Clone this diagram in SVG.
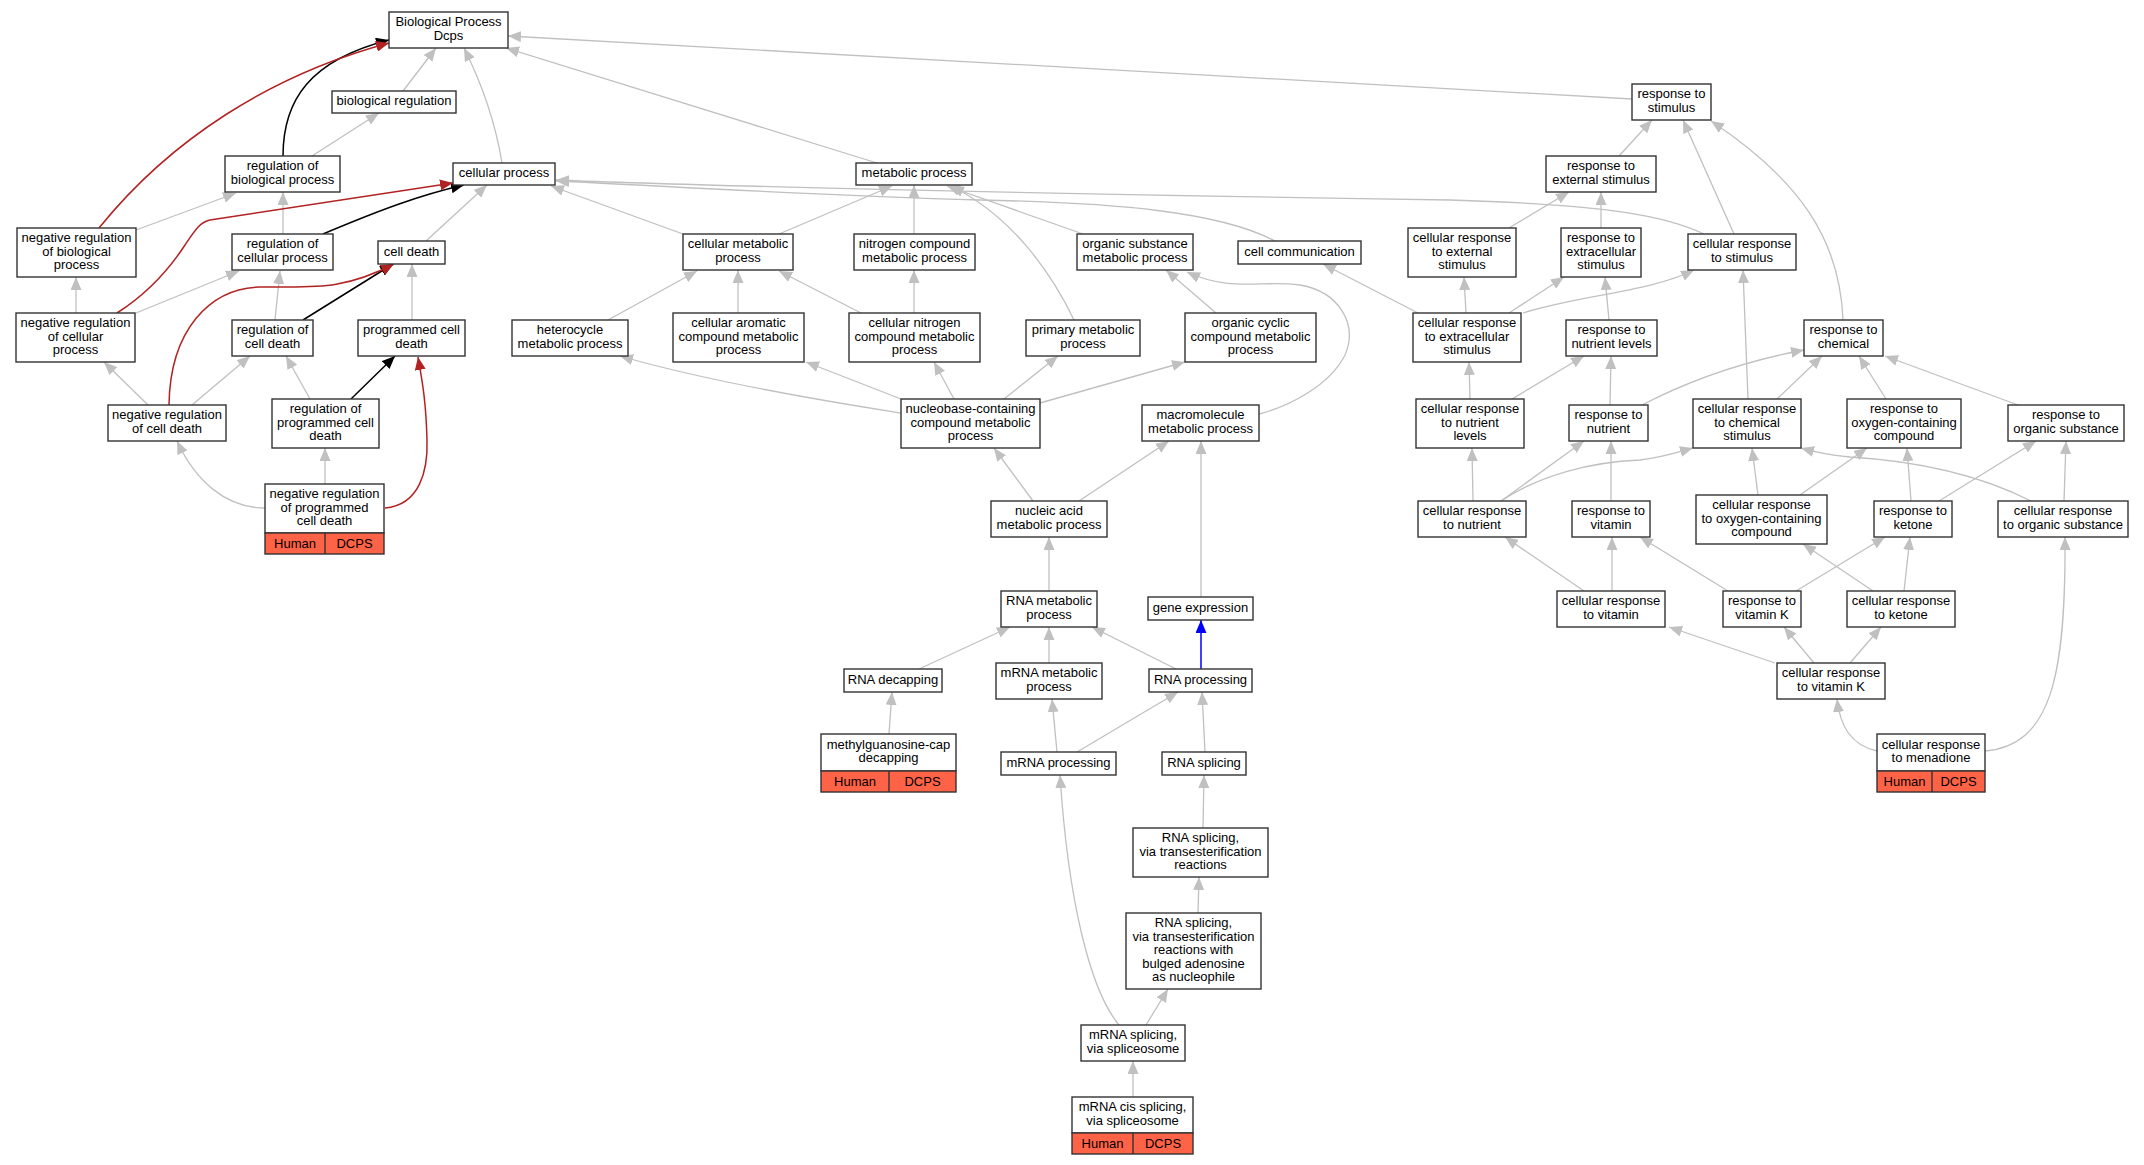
<svg xmlns="http://www.w3.org/2000/svg" width="2144" height="1165" viewBox="0 0 2144 1165">
<style>
.n rect{fill:#fff;stroke:#333;stroke-width:1.4}
.n rect.row{fill:#ff6347}
.n line{stroke:#333;stroke-width:1.4}
text{font-family:"Liberation Sans",Arial,Helvetica,sans-serif;font-size:13px;text-anchor:middle;fill:#000}
.e path{fill:none}
.g{stroke:#c0c0c0;stroke-width:1.3;marker-end:url(#ag)}
.k{stroke:#000;stroke-width:1.5;marker-end:url(#ak)}
.r{stroke:#b22222;stroke-width:1.5;marker-end:url(#ar)}
.b{stroke:#0000ff;stroke-width:1.5;marker-end:url(#ab)}
</style>
<defs>
<marker id="ag" markerUnits="userSpaceOnUse" markerWidth="13" markerHeight="11" refX="13" refY="5.5" orient="auto"><path d="M0,0L13,5.5L0,11z" fill="#c0c0c0"/></marker>
<marker id="ak" markerUnits="userSpaceOnUse" markerWidth="13" markerHeight="11" refX="13" refY="5.5" orient="auto"><path d="M0,0L13,5.5L0,11z" fill="#000"/></marker>
<marker id="ar" markerUnits="userSpaceOnUse" markerWidth="13" markerHeight="11" refX="13" refY="5.5" orient="auto"><path d="M0,0L13,5.5L0,11z" fill="#b22222"/></marker>
<marker id="ab" markerUnits="userSpaceOnUse" markerWidth="13" markerHeight="11" refX="13" refY="5.5" orient="auto"><path d="M0,0L13,5.5L0,11z" fill="#0000ff"/></marker>
</defs>
<rect width="2144" height="1165" fill="#fff"/>
<g id="connectors" class="e">
<path class="g" d="M403,91 L436,48"/>
<path class="g" d="M312,156 L379,113"/>
<path class="g" d="M502,163 C495,120 480,80 464,48"/>
<path class="g" d="M877,163 L506,48"/>
<path class="g" d="M1632,99 L508,36"/>
<path class="g" d="M136,230 L236,193"/>
<path class="g" d="M283,234 L283,192"/>
<path class="g" d="M426,241 L487,185"/>
<path class="g" d="M76,313 L76,277"/>
<path class="g" d="M136,313 L239,271"/>
<path class="g" d="M275,320 L280,271"/>
<path class="g" d="M412,320 L412,264"/>
<path class="g" d="M310,399 L286,356"/>
<path class="g" d="M148,405 L104,362"/>
<path class="g" d="M192,405 L250,356"/>
<path class="g" d="M265,508 C225,508 195,480 177,441"/>
<path class="g" d="M325,484 L325,448"/>
<path class="g" d="M683,234 L551,186"/>
<path class="g" d="M1704,234 C1670,218 1620,205 1450,200 C1100,195 700,186 556,180"/>
<path class="g" d="M1275,241 C1220,212 1120,203 980,200 C800,195 650,185 556,181"/>
<path class="g" d="M779,234 L892,186"/>
<path class="g" d="M914,234 L914,185"/>
<path class="g" d="M1083,234 L947,186"/>
<path class="g" d="M1074,320 C1050,270 1010,215 951,186"/>
<path class="g" d="M1259,414 C1290,406 1330,385 1345,355 C1358,325 1340,292 1300,285 C1260,280 1230,292 1187,272"/>
<path class="g" d="M608,320 L697,271"/>
<path class="g" d="M738,313 L738,270"/>
<path class="g" d="M861,313 L779,271"/>
<path class="g" d="M914,313 L914,270"/>
<path class="g" d="M901,413 C850,405 720,385 620,356"/>
<path class="g" d="M901,399 L806,362"/>
<path class="g" d="M954,399 L934,362"/>
<path class="g" d="M1004,399 L1058,356"/>
<path class="g" d="M1040,403 L1185,362"/>
<path class="g" d="M1216,313 L1166,270"/>
<path class="g" d="M1033,501 L994,448"/>
<path class="g" d="M1079,501 L1169,441"/>
<path class="g" d="M1049,591 L1049,537"/>
<path class="g" d="M1201,597 L1201,441"/>
<path class="g" d="M919,669 L1010,627"/>
<path class="g" d="M1049,663 L1049,627"/>
<path class="g" d="M1176,669 L1092,627"/>
<path class="g" d="M889,734 L892,692"/>
<path class="g" d="M1057,752 L1052,699"/>
<path class="g" d="M1077,752 L1178,692"/>
<path class="g" d="M1205,752 L1202,692"/>
<path class="g" d="M1203,828 L1204,775"/>
<path class="g" d="M1198,913 L1199,877"/>
<path class="g" d="M1146,1025 L1168,989"/>
<path class="g" d="M1119,1025 C1090,990 1068,900 1060,775"/>
<path class="g" d="M1133,1097 L1133,1061"/>
<path class="g" d="M1619,156 L1652,120"/>
<path class="g" d="M1734,234 L1683,120"/>
<path class="g" d="M1843,320 C1840,240 1800,180 1711,121"/>
<path class="g" d="M1509,228 L1569,192"/>
<path class="g" d="M1601,228 L1601,192"/>
<path class="g" d="M1418,313 L1323,264"/>
<path class="g" d="M1466,313 L1464,277"/>
<path class="g" d="M1509,313 L1564,277"/>
<path class="g" d="M1523,313 C1580,295 1650,292 1694,270"/>
<path class="g" d="M1609,320 L1605,277"/>
<path class="g" d="M1470,399 L1469,362"/>
<path class="g" d="M1512,399 L1584,356"/>
<path class="g" d="M1610,405 L1611,356"/>
<path class="g" d="M1473,501 L1472,448"/>
<path class="g" d="M1501,501 L1584,441"/>
<path class="g" d="M1501,501 C1540,475 1590,462 1640,460 C1660,458 1675,453 1693,448"/>
<path class="g" d="M1611,501 L1611,441"/>
<path class="g" d="M1584,591 L1505,537"/>
<path class="g" d="M1612,591 L1612,537"/>
<path class="g" d="M1775,663 L1669,627"/>
<path class="g" d="M1814,663 L1784,627"/>
<path class="g" d="M1850,663 L1881,627"/>
<path class="g" d="M1728,591 L1640,537"/>
<path class="g" d="M1796,591 L1885,537"/>
<path class="g" d="M1873,591 L1803,544"/>
<path class="g" d="M1904,591 L1910,537"/>
<path class="g" d="M1877,751 C1850,745 1840,725 1837,699"/>
<path class="g" d="M1985,751 C2050,745 2066,680 2065,537"/>
<path class="g" d="M2064,501 L2066,441"/>
<path class="g" d="M2031,501 C1970,470 1900,460 1850,457 C1830,455 1815,452 1801,448"/>
<path class="g" d="M1911,501 L1907,448"/>
<path class="g" d="M1939,501 L2036,441"/>
<path class="g" d="M1758,495 L1752,448"/>
<path class="g" d="M1800,495 L1867,448"/>
<path class="g" d="M1777,399 L1822,356"/>
<path class="g" d="M1748,399 L1743,270"/>
<path class="g" d="M1642,405 C1690,380 1740,362 1804,350"/>
<path class="g" d="M1886,399 L1859,356"/>
<path class="g" d="M2018,405 L1885,356"/>
<path class="k" d="M283,156 C283,100 310,60 389,40"/>
<path class="k" d="M323,234 C380,210 420,195 464,185"/>
<path class="k" d="M303,320 L393,264"/>
<path class="k" d="M351,399 L395,356"/>
<path class="r" d="M99,228 C170,140 270,75 389,43"/>
<path class="r" d="M117,313 C150,292 170,268 185,245 C195,230 200,222 210,220 L453,183"/>
<path class="r" d="M169,405 C170,330 210,288 260,287 C310,286 340,292 394,264"/>
<path class="r" d="M385,508 C420,505 428,470 427,440 C426,400 422,380 418,357"/>
<path class="b" d="M1201,669 L1201,620"/>
</g>
<g id="n_bp" class="n"><rect x="389" y="12" width="119" height="36"/><text><tspan x="448.5" y="26.25">Biological Process</tspan><tspan x="448.5" y="39.75">Dcps</tspan></text></g>
<g id="n_bioreg" class="n"><rect x="332" y="91" width="124" height="22"/><text x="394" y="105">biological regulation</text></g>
<g id="n_rbp" class="n"><rect x="225" y="156" width="115" height="36"/><text><tspan x="282.5" y="170.25">regulation of</tspan><tspan x="282.5" y="183.75">biological process</tspan></text></g>
<g id="n_cp" class="n"><rect x="453" y="163" width="102" height="22"/><text x="504" y="177">cellular process</text></g>
<g id="n_nrbp" class="n"><rect x="17" y="228" width="119" height="49"/><text><tspan x="76.5" y="242">negative regulation</tspan><tspan x="76.5" y="255.5">of biological</tspan><tspan x="76.5" y="269">process</tspan></text></g>
<g id="n_rcp" class="n"><rect x="232" y="234" width="101" height="36"/><text><tspan x="282.5" y="248.25">regulation of</tspan><tspan x="282.5" y="261.75">cellular process</tspan></text></g>
<g id="n_cd" class="n"><rect x="378" y="241" width="67" height="23"/><text x="411.5" y="255.5">cell death</text></g>
<g id="n_nrcp" class="n"><rect x="16" y="313" width="119" height="49"/><text><tspan x="75.5" y="327">negative regulation</tspan><tspan x="75.5" y="340.5">of cellular</tspan><tspan x="75.5" y="354">process</tspan></text></g>
<g id="n_rcd" class="n"><rect x="232" y="320" width="81" height="36"/><text><tspan x="272.5" y="334.25">regulation of</tspan><tspan x="272.5" y="347.75">cell death</tspan></text></g>
<g id="n_pcd" class="n"><rect x="358" y="320" width="107" height="36"/><text><tspan x="411.5" y="334.25">programmed cell</tspan><tspan x="411.5" y="347.75">death</tspan></text></g>
<g id="n_nrcd" class="n"><rect x="108" y="405" width="118" height="36"/><text><tspan x="167" y="419.25">negative regulation</tspan><tspan x="167" y="432.75">of cell death</tspan></text></g>
<g id="n_rpcd" class="n"><rect x="272" y="399" width="107" height="49"/><text><tspan x="325.5" y="413">regulation of</tspan><tspan x="325.5" y="426.5">programmed cell</tspan><tspan x="325.5" y="440">death</tspan></text></g>
<g id="n_nrpcd" class="n"><rect x="265" y="484" width="119" height="49"/><text><tspan x="324.5" y="498">negative regulation</tspan><tspan x="324.5" y="511.5">of programmed</tspan><tspan x="324.5" y="525">cell death</tspan></text><rect class="row" x="265" y="533" width="119" height="21"/><line x1="325" y1="533" x2="325" y2="554"/><text x="295" y="547.5">Human</text><text x="354.5" y="547.5">DCPS</text></g>
<g id="n_mp" class="n"><rect x="856" y="163" width="116" height="22"/><text x="914" y="177">metabolic process</text></g>
<g id="n_cmp" class="n"><rect x="683" y="234" width="110" height="36"/><text><tspan x="738" y="248.25">cellular metabolic</tspan><tspan x="738" y="261.75">process</tspan></text></g>
<g id="n_ncmp" class="n"><rect x="854" y="234" width="121" height="36"/><text><tspan x="914.5" y="248.25">nitrogen compound</tspan><tspan x="914.5" y="261.75">metabolic process</tspan></text></g>
<g id="n_osmp" class="n"><rect x="1077" y="234" width="116" height="36"/><text><tspan x="1135" y="248.25">organic substance</tspan><tspan x="1135" y="261.75">metabolic process</tspan></text></g>
<g id="n_cc" class="n"><rect x="1238" y="241" width="123" height="23"/><text x="1299.5" y="255.5">cell communication</text></g>
<g id="n_hmp" class="n"><rect x="512" y="320" width="116" height="36"/><text><tspan x="570" y="334.25">heterocycle</tspan><tspan x="570" y="347.75">metabolic process</tspan></text></g>
<g id="n_cacmp" class="n"><rect x="673" y="313" width="131" height="49"/><text><tspan x="738.5" y="327">cellular aromatic</tspan><tspan x="738.5" y="340.5">compound metabolic</tspan><tspan x="738.5" y="354">process</tspan></text></g>
<g id="n_cncmp" class="n"><rect x="849" y="313" width="131" height="49"/><text><tspan x="914.5" y="327">cellular nitrogen</tspan><tspan x="914.5" y="340.5">compound metabolic</tspan><tspan x="914.5" y="354">process</tspan></text></g>
<g id="n_pmp" class="n"><rect x="1026" y="320" width="114" height="36"/><text><tspan x="1083" y="334.25">primary metabolic</tspan><tspan x="1083" y="347.75">process</tspan></text></g>
<g id="n_occmp" class="n"><rect x="1185" y="313" width="131" height="49"/><text><tspan x="1250.5" y="327">organic cyclic</tspan><tspan x="1250.5" y="340.5">compound metabolic</tspan><tspan x="1250.5" y="354">process</tspan></text></g>
<g id="n_nccmp" class="n"><rect x="901" y="399" width="139" height="49"/><text><tspan x="970.5" y="413">nucleobase-containing</tspan><tspan x="970.5" y="426.5">compound metabolic</tspan><tspan x="970.5" y="440">process</tspan></text></g>
<g id="n_mmp" class="n"><rect x="1142" y="405" width="117" height="36"/><text><tspan x="1200.5" y="419.25">macromolecule</tspan><tspan x="1200.5" y="432.75">metabolic process</tspan></text></g>
<g id="n_namp" class="n"><rect x="991" y="501" width="116" height="36"/><text><tspan x="1049" y="515.25">nucleic acid</tspan><tspan x="1049" y="528.75">metabolic process</tspan></text></g>
<g id="n_rmp" class="n"><rect x="1001" y="591" width="96" height="36"/><text><tspan x="1049" y="605.25">RNA metabolic</tspan><tspan x="1049" y="618.75">process</tspan></text></g>
<g id="n_ge" class="n"><rect x="1148" y="597" width="105" height="23"/><text x="1200.5" y="611.5">gene expression</text></g>
<g id="n_rd" class="n"><rect x="844" y="669" width="98" height="23"/><text x="893" y="683.5">RNA decapping</text></g>
<g id="n_mrmp" class="n"><rect x="996" y="663" width="106" height="36"/><text><tspan x="1049" y="677.25">mRNA metabolic</tspan><tspan x="1049" y="690.75">process</tspan></text></g>
<g id="n_rp" class="n"><rect x="1149" y="669" width="103" height="23"/><text x="1200.5" y="683.5">RNA processing</text></g>
<g id="n_mgc" class="n"><rect x="821" y="734" width="135" height="37"/><text><tspan x="888.5" y="748.75">methylguanosine-cap</tspan><tspan x="888.5" y="762.25">decapping</tspan></text><rect class="row" x="821" y="771" width="135" height="21"/><line x1="889" y1="771" x2="889" y2="792"/><text x="855" y="785.5">Human</text><text x="922.5" y="785.5">DCPS</text></g>
<g id="n_mrp" class="n"><rect x="1001" y="752" width="115" height="23"/><text x="1058.5" y="766.5">mRNA processing</text></g>
<g id="n_rs" class="n"><rect x="1162" y="752" width="84" height="23"/><text x="1204" y="766.5">RNA splicing</text></g>
<g id="n_rst" class="n"><rect x="1133" y="828" width="135" height="49"/><text><tspan x="1200.5" y="842">RNA splicing,</tspan><tspan x="1200.5" y="855.5">via transesterification</tspan><tspan x="1200.5" y="869">reactions</tspan></text></g>
<g id="n_rsb" class="n"><rect x="1126" y="913" width="135" height="76"/><text><tspan x="1193.5" y="927">RNA splicing,</tspan><tspan x="1193.5" y="940.5">via transesterification</tspan><tspan x="1193.5" y="954">reactions with</tspan><tspan x="1193.5" y="967.5">bulged adenosine</tspan><tspan x="1193.5" y="981">as nucleophile</tspan></text></g>
<g id="n_mss" class="n"><rect x="1081" y="1025" width="104" height="36"/><text><tspan x="1133" y="1039.25">mRNA splicing,</tspan><tspan x="1133" y="1052.75">via spliceosome</tspan></text></g>
<g id="n_mcs" class="n"><rect x="1072" y="1097" width="121" height="36"/><text><tspan x="1132.5" y="1111.25">mRNA cis splicing,</tspan><tspan x="1132.5" y="1124.75">via spliceosome</tspan></text><rect class="row" x="1072" y="1133" width="121" height="21"/><line x1="1133" y1="1133" x2="1133" y2="1154"/><text x="1102.5" y="1147.5">Human</text><text x="1163" y="1147.5">DCPS</text></g>
<g id="n_rstim" class="n"><rect x="1632" y="84" width="79" height="36"/><text><tspan x="1671.5" y="98.25">response to</tspan><tspan x="1671.5" y="111.75">stimulus</tspan></text></g>
<g id="n_res" class="n"><rect x="1546" y="156" width="110" height="36"/><text><tspan x="1601" y="170.25">response to</tspan><tspan x="1601" y="183.75">external stimulus</tspan></text></g>
<g id="n_cres" class="n"><rect x="1408" y="228" width="108" height="49"/><text><tspan x="1462" y="242">cellular response</tspan><tspan x="1462" y="255.5">to external</tspan><tspan x="1462" y="269">stimulus</tspan></text></g>
<g id="n_rexs" class="n"><rect x="1561" y="228" width="80" height="49"/><text><tspan x="1601" y="242">response to</tspan><tspan x="1601" y="255.5">extracellular</tspan><tspan x="1601" y="269">stimulus</tspan></text></g>
<g id="n_crs" class="n"><rect x="1688" y="234" width="108" height="36"/><text><tspan x="1742" y="248.25">cellular response</tspan><tspan x="1742" y="261.75">to stimulus</tspan></text></g>
<g id="n_crexs" class="n"><rect x="1413" y="313" width="108" height="49"/><text><tspan x="1467" y="327">cellular response</tspan><tspan x="1467" y="340.5">to extracellular</tspan><tspan x="1467" y="354">stimulus</tspan></text></g>
<g id="n_rnl" class="n"><rect x="1566" y="320" width="91" height="36"/><text><tspan x="1611.5" y="334.25">response to</tspan><tspan x="1611.5" y="347.75">nutrient levels</tspan></text></g>
<g id="n_rc" class="n"><rect x="1804" y="320" width="79" height="36"/><text><tspan x="1843.5" y="334.25">response to</tspan><tspan x="1843.5" y="347.75">chemical</tspan></text></g>
<g id="n_crnl" class="n"><rect x="1416" y="399" width="108" height="49"/><text><tspan x="1470" y="413">cellular response</tspan><tspan x="1470" y="426.5">to nutrient</tspan><tspan x="1470" y="440">levels</tspan></text></g>
<g id="n_rn" class="n"><rect x="1569" y="405" width="79" height="36"/><text><tspan x="1608.5" y="419.25">response to</tspan><tspan x="1608.5" y="432.75">nutrient</tspan></text></g>
<g id="n_crcs" class="n"><rect x="1693" y="399" width="108" height="49"/><text><tspan x="1747" y="413">cellular response</tspan><tspan x="1747" y="426.5">to chemical</tspan><tspan x="1747" y="440">stimulus</tspan></text></g>
<g id="n_roc" class="n"><rect x="1847" y="399" width="114" height="49"/><text><tspan x="1904" y="413">response to</tspan><tspan x="1904" y="426.5">oxygen-containing</tspan><tspan x="1904" y="440">compound</tspan></text></g>
<g id="n_ros" class="n"><rect x="2008" y="405" width="116" height="36"/><text><tspan x="2066" y="419.25">response to</tspan><tspan x="2066" y="432.75">organic substance</tspan></text></g>
<g id="n_crn" class="n"><rect x="1418" y="501" width="108" height="36"/><text><tspan x="1472" y="515.25">cellular response</tspan><tspan x="1472" y="528.75">to nutrient</tspan></text></g>
<g id="n_rv" class="n"><rect x="1572" y="501" width="78" height="36"/><text><tspan x="1611" y="515.25">response to</tspan><tspan x="1611" y="528.75">vitamin</tspan></text></g>
<g id="n_croc" class="n"><rect x="1696" y="495" width="131" height="49"/><text><tspan x="1761.5" y="509">cellular response</tspan><tspan x="1761.5" y="522.5">to oxygen-containing</tspan><tspan x="1761.5" y="536">compound</tspan></text></g>
<g id="n_rk" class="n"><rect x="1874" y="501" width="78" height="36"/><text><tspan x="1913" y="515.25">response to</tspan><tspan x="1913" y="528.75">ketone</tspan></text></g>
<g id="n_cros" class="n"><rect x="1998" y="501" width="130" height="36"/><text><tspan x="2063" y="515.25">cellular response</tspan><tspan x="2063" y="528.75">to organic substance</tspan></text></g>
<g id="n_crv" class="n"><rect x="1557" y="591" width="108" height="36"/><text><tspan x="1611" y="605.25">cellular response</tspan><tspan x="1611" y="618.75">to vitamin</tspan></text></g>
<g id="n_rvk" class="n"><rect x="1723" y="591" width="78" height="36"/><text><tspan x="1762" y="605.25">response to</tspan><tspan x="1762" y="618.75">vitamin K</tspan></text></g>
<g id="n_crk" class="n"><rect x="1847" y="591" width="108" height="36"/><text><tspan x="1901" y="605.25">cellular response</tspan><tspan x="1901" y="618.75">to ketone</tspan></text></g>
<g id="n_crvk" class="n"><rect x="1777" y="663" width="108" height="36"/><text><tspan x="1831" y="677.25">cellular response</tspan><tspan x="1831" y="690.75">to vitamin K</tspan></text></g>
<g id="n_crm" class="n"><rect x="1877" y="734" width="108" height="37"/><text><tspan x="1931" y="748.75">cellular response</tspan><tspan x="1931" y="762.25">to menadione</tspan></text><rect class="row" x="1877" y="771" width="108" height="21"/><line x1="1932" y1="771" x2="1932" y2="792"/><text x="1904.5" y="785.5">Human</text><text x="1958.5" y="785.5">DCPS</text></g>
</svg>
